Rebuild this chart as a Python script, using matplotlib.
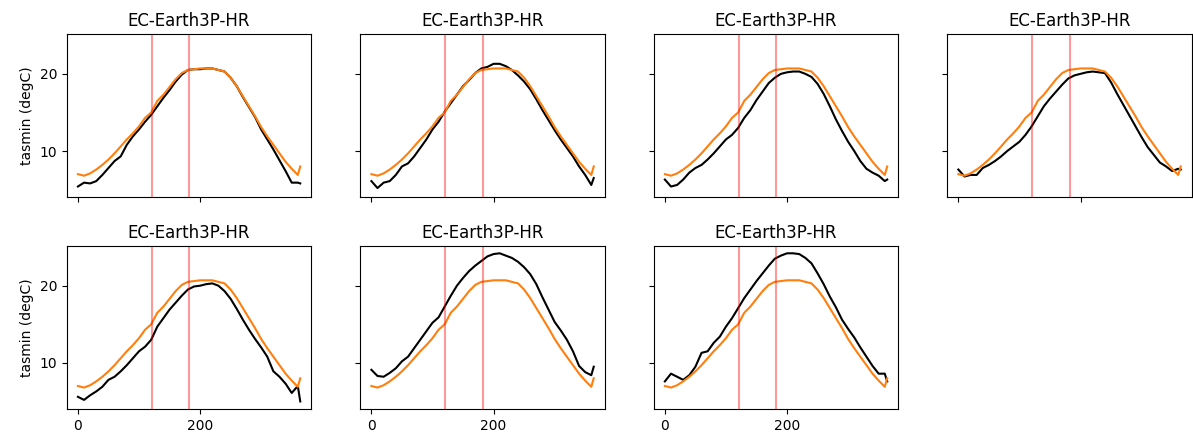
import numpy as np
import matplotlib
matplotlib.use('Agg')
import matplotlib.pyplot as plt
from matplotlib.ticker import MultipleLocator

# day of year sample points
days = [0, 10, 20, 30, 40, 50, 60, 70, 80, 90, 100, 110, 120, 130, 140, 150, 160, 170, 180,
        190, 200, 210, 220, 230, 240, 250, 260, 270, 280, 290, 300, 310, 320, 330, 340, 350, 360, 364]

# observed reference climatology (orange), same in every panel
ref = [7.0, 6.8, 7.1, 7.6, 8.2, 8.9, 9.7, 10.6, 11.5, 12.3, 13.2, 14.3, 15.0, 16.5, 17.3, 18.3, 19.3, 20.1, 20.5,
       20.6, 20.7, 20.7, 20.7, 20.5, 20.3, 19.5, 18.4, 17.1, 15.8, 14.5, 13.1, 11.9, 10.8, 9.7, 8.6, 7.7, 6.9, 8.0]

# model climatology per panel (black)
model_1 = [5.4, 5.9, 5.8, 6.1, 6.9, 7.8, 8.7, 9.3, 10.8, 11.9, 12.8, 13.8, 14.7, 15.8, 16.9, 17.9, 19.0, 19.9, 20.5,
           20.6, 20.6, 20.7, 20.7, 20.5, 20.3, 19.5, 18.4, 17.0, 15.7, 14.4, 12.8, 11.5, 10.2, 8.8, 7.4, 5.9, 5.9, 5.8]
model_2 = [6.1, 5.2, 5.9, 6.1, 6.9, 8.0, 8.4, 9.3, 10.4, 11.5, 12.8, 13.8, 15.1, 16.2, 17.3, 18.4, 19.2, 20.1, 20.7,
           20.9, 21.3, 21.3, 21.0, 20.5, 19.8, 19.0, 18.0, 16.7, 15.3, 14.0, 12.7, 11.5, 10.4, 9.3, 8.0, 6.9, 5.6, 6.5]
model_3 = [6.3, 5.4, 5.6, 6.3, 7.2, 7.8, 8.2, 8.9, 9.7, 10.6, 11.5, 12.1, 13.0, 14.3, 15.3, 16.6, 17.7, 18.8, 19.5,
           20.0, 20.2, 20.3, 20.3, 20.0, 19.6, 18.7, 17.4, 15.8, 14.1, 12.6, 11.2, 10.0, 8.7, 7.7, 7.2, 6.8, 6.1, 6.3]
model_4 = [7.6, 6.7, 6.9, 6.9, 7.8, 8.2, 8.7, 9.3, 10.0, 10.6, 11.2, 12.1, 13.2, 14.5, 15.8, 16.8, 17.7, 18.6, 19.4,
           19.8, 20.0, 20.2, 20.3, 20.2, 20.1, 18.9, 17.4, 16.0, 14.6, 13.2, 11.8, 10.5, 9.5, 8.5, 8.0, 7.4, 7.7, 7.6]
model_5 = [5.6, 5.2, 5.8, 6.3, 6.9, 7.8, 8.2, 8.9, 9.7, 10.6, 11.5, 12.1, 13.0, 14.7, 15.8, 16.9, 17.8, 18.7, 19.5,
           19.9, 20.0, 20.2, 20.3, 20.0, 19.3, 18.3, 17.0, 15.6, 14.3, 13.1, 12.0, 10.8, 8.9, 8.2, 7.3, 6.1, 7.0, 5.0]
model_6 = [9.1, 8.3, 8.2, 8.7, 9.3, 10.2, 10.8, 11.9, 13.0, 14.1, 15.2, 15.9, 17.3, 18.7, 20.0, 21.0, 21.9, 22.6, 23.2,
           23.8, 24.1, 24.2, 23.9, 23.6, 23.1, 22.4, 21.5, 20.2, 18.5, 16.9, 15.3, 14.2, 13.0, 11.5, 9.6, 8.8, 8.4, 9.5]
model_7 = [7.6, 8.6, 8.2, 7.8, 8.4, 9.5, 11.3, 11.5, 12.6, 13.4, 14.7, 15.8, 17.1, 18.4, 19.5, 20.6, 21.6, 22.6, 23.5,
           23.9, 24.2, 24.2, 24.1, 23.6, 22.9, 21.6, 20.2, 18.6, 17.2, 15.6, 14.4, 13.3, 12.0, 10.8, 9.6, 8.6, 8.6, 7.6]

models = [model_1, model_2, model_3, model_4, model_5, model_6, model_7]
titles = ['EC-Earth3P-HR'] * 7
season_bounds = [121, 182]

fig, axs = plt.subplots(2, 4, figsize=(11.93, 4.42), sharex=True, sharey=True)
fig.subplots_adjust(left=0.056, right=0.999, top=0.923, bottom=0.075, wspace=0.2, hspace=0.3)

for i, ax in enumerate(axs.flat):
    if i >= len(models):
        ax.remove()
        continue
    ax.plot(days, models[i], color='black')
    ax.plot(days, ref, color='tab:orange')
    for b in season_bounds:
        ax.axvline(b, color='red', alpha=0.4)
    ax.set_title(titles[i])

axs[0, 0].xaxis.set_major_locator(MultipleLocator(200))
axs[0, 0].yaxis.set_major_locator(MultipleLocator(10))
axs[0, 0].set_ylabel('tasmin (degC)')
axs[1, 0].set_ylabel('tasmin (degC)')

plt.savefig('out.png', dpi=100)
